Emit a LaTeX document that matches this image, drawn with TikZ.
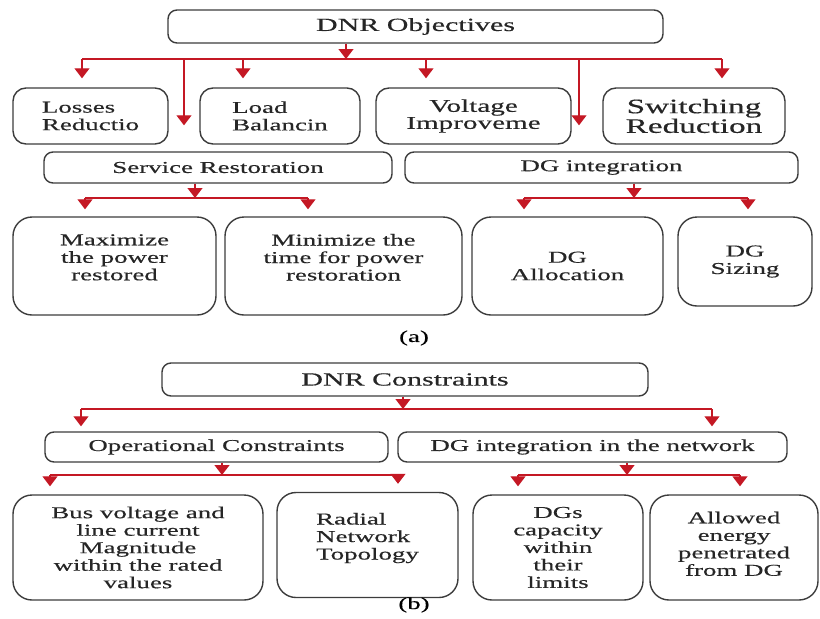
\documentclass[tikz,border=0pt]{standalone}
\usepackage{fontspec}
\setmainfont{Liberation Serif}[FakeStretch=1.62,FakeBold=0.4]
\usetikzlibrary{arrows.meta}
\definecolor{linkred}{RGB}{196,24,36}
\definecolor{boxgray}{RGB}{60,60,60}

\begin{document}
\begin{tikzpicture}[x=1pt,y=-1pt,
    box/.style={draw=boxgray, line width=1.4pt, rounded corners=9pt, text=black!85,
      align=center, inner sep=0pt, font=\fontsize{16.6}{17.5}\selectfont},
    midbox/.style={box, rounded corners=13pt},
    tallbox/.style={box, rounded corners=19pt},
    bus/.style={draw=linkred, line width=1.2pt},
    drop/.style={bus, -{Triangle[width=15pt,length=10pt]}},
  ]
\useasboundingbox (0,0) rectangle (820,619);

% (a) objectives
\node[box, minimum width=495pt, minimum height=33pt, font=\fontsize{18.5}{20}\selectfont] (obj) at (415.5,26.5) {DNR Objectives};
\node[midbox, minimum width=155pt, minimum height=56pt, align=left] (loss) at (90.5,116) {Losses\\Reductio};
\node[midbox, minimum width=160pt, minimum height=56pt, align=left] (load) at (280,116) {Load\\Balancin};
\node[midbox, minimum width=195pt, minimum height=56pt, font=\fontsize{18}{17}\selectfont] (volt) at (473.5,116) {Voltage\\Improveme};
\node[midbox, minimum width=182pt, minimum height=56pt, font=\fontsize{20.5}{18}\selectfont] (swit) at (694,116) {Switching\\Reduction};
\node[box, minimum width=348pt, minimum height=31pt] (serv) at (218,167.5) {Service Restoration};
\node[box, minimum width=393pt, minimum height=31pt] (dgi) at (601.5,167.5) {DG integration};
\node[tallbox, minimum width=203pt, minimum height=98pt] (maxp) at (114.5,266) {Maximize\\the power\\restored\\~};
\node[tallbox, minimum width=237pt, minimum height=98pt] (mint) at (343.5,266) {Minimize the\\time for power\\restoration\\~};
\node[tallbox, minimum width=191pt, minimum height=98pt] (dgal) at (567.5,266) {DG\\Allocation};
\node[tallbox, minimum width=134pt, minimum height=89pt] (dgsz) at (745,261.5) {DG\\Sizing};
\node (capa) at (414,338) {\fontsize{16.6}{17.5}\selectfont(a)};

\coordinate (objbus) at (346,59);
\draw[drop] (obj.south -| objbus) -- (objbus);
\draw[bus] (objbus -| 82,0) -- (objbus -| 722,0);
\foreach \x/\n in {82/loss,243/load,426/volt,722/swit}
  \draw[drop, shorten >=9pt] (objbus -| \x,0) -- (\n.north -| \x,0);
\foreach \x/\n in {184/serv,579/dgi}
  \draw[drop, shorten >=26pt] (objbus -| \x,0) -- (\n.north -| \x,0);

\coordinate (servbus) at (195,198);
\draw[drop] (serv.south -| servbus) -- (servbus);
\draw[bus] (servbus -| 85,0) -- (servbus -| 308,0);
\foreach \x/\n in {85/maxp,308/mint}
  \draw[drop, shorten >=7pt] (servbus -| \x,0) -- (\n.north -| \x,0);

\coordinate (dgibus) at (634,198);
\draw[drop] (dgi.south -| dgibus) -- (dgibus);
\draw[bus] (dgibus -| 524,0) -- (dgibus -| 748,0);
\foreach \x/\n in {524/dgal,748/dgsz}
  \draw[drop, shorten >=7pt] (dgibus -| \x,0) -- (\n.north -| \x,0);

% (b) constraints
\node[box, minimum width=486pt, minimum height=33pt, font=\fontsize{18.5}{20}\selectfont] (con) at (405,379.5) {DNR Constraints};
\node[box, minimum width=343pt, minimum height=30pt] (oper) at (216.5,447) {Operational Constraints};
\node[box, minimum width=389pt, minimum height=30pt] (dgnet) at (592.5,447) {DG integration in the network};
\node[tallbox, minimum width=250pt, minimum height=105pt] (bus) at (138,547.5) {Bus voltage and\\line current\\Magnitude\\within the rated\\values};
\node[tallbox, minimum width=181pt, minimum height=105pt, align=left] (rad) at (367.5,545) {Radial\\Network\\Topology\\~};
\node[tallbox, minimum width=170pt, minimum height=105pt] (dgcap) at (558,547.5) {DGs\\capacity\\within\\their\\limits};
\node[tallbox, minimum width=168pt, minimum height=105pt] (allow) at (734,547.5) {Allowed\\energy\\penetrated\\from DG\\[-10pt]~};
\node (capb) at (414,605) {\fontsize{16.6}{17.5}\selectfont(b)};

\coordinate (conbus) at (403,409);
\draw[drop] (con.south -| conbus) -- (conbus);
\draw[bus] (conbus -| 81,0) -- (conbus -| 712,0);
\foreach \x/\n in {81/oper,712/dgnet}
  \draw[drop, shorten >=5pt] (conbus -| \x,0) -- (\n.north -| \x,0);

\coordinate (operbus) at (222,475);
\draw[drop] (oper.south -| operbus) -- (operbus);
\draw[bus] (operbus -| 50,0) -- (operbus -| 398,0);
\foreach \x/\n in {50/bus,398/rad}
  \draw[drop, shorten >=8pt] (operbus -| \x,0) -- (\n.north -| \x,0);

\coordinate (netbus) at (627,475);
\draw[drop] (dgnet.south -| netbus) -- (netbus);
\draw[bus] (netbus -| 518,0) -- (netbus -| 740,0);
\foreach \x/\n in {518/dgcap,740/allow}
  \draw[drop, shorten >=8pt] (netbus -| \x,0) -- (\n.north -| \x,0);
\end{tikzpicture}
\end{document}
